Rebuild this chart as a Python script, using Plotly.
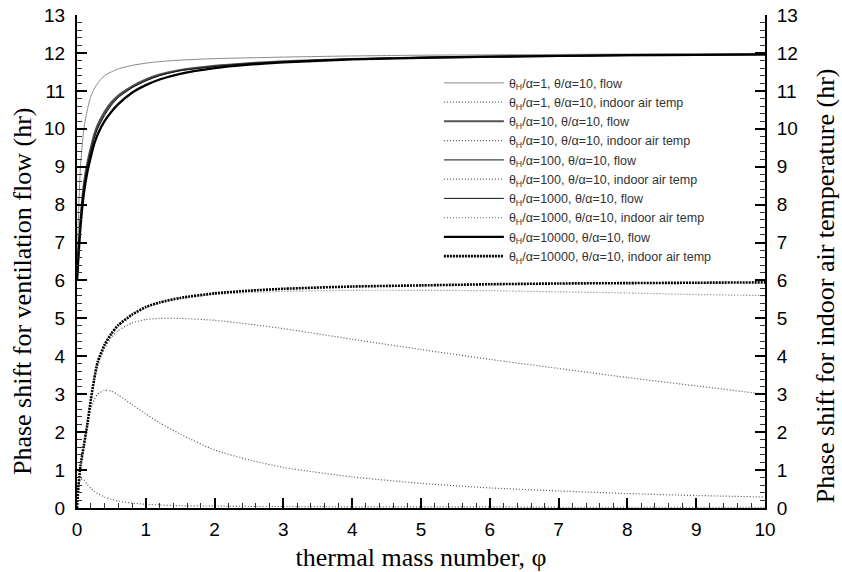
import plotly.graph_objects as go

# thermal mass number, phi
phi = [0, 0.02, 0.05, 0.1, 0.15, 0.2, 0.25, 0.3, 0.4, 0.5, 0.6, 0.8, 1.0, 1.2,
       1.5, 2, 2.5, 3, 4, 5, 6, 7, 8, 9, 10]

# phase shift of ventilation flow (hr)
flow_1 = [6.0, 7.6, 9.0, 10.0, 10.5, 10.85, 11.05, 11.2, 11.4, 11.5, 11.58, 11.67, 11.73, 11.77,
          11.81, 11.85, 11.87, 11.89, 11.92, 11.94, 11.95, 11.96, 11.97, 11.97, 11.98]
flow_10 = [6.0, 6.7, 7.6, 8.55, 9.1, 9.5, 9.85, 10.1, 10.45, 10.7, 10.88, 11.12, 11.3, 11.43,
           11.55, 11.66, 11.73, 11.78, 11.84, 11.88, 11.9, 11.92, 11.94, 11.95, 11.96]
flow_100 = [6.0, 6.68, 7.55, 8.5, 9.05, 9.45, 9.8, 10.05, 10.4, 10.66, 10.85, 11.1, 11.28, 11.41,
            11.54, 11.65, 11.72, 11.77, 11.84, 11.88, 11.9, 11.92, 11.94, 11.95, 11.96]
flow_1000 = [6.0, 6.66, 7.5, 8.45, 9.0, 9.4, 9.75, 10.0, 10.35, 10.62, 10.82, 11.08, 11.26, 11.4,
             11.53, 11.64, 11.72, 11.77, 11.84, 11.88, 11.9, 11.92, 11.94, 11.95, 11.96]
flow_10000 = [6.0, 6.6, 7.4, 8.3, 8.85, 9.25, 9.6, 9.85, 10.2, 10.45, 10.65, 10.95, 11.15, 11.3,
              11.45, 11.6, 11.69, 11.75, 11.83, 11.87, 11.9, 11.92, 11.94, 11.95, 11.96]

# phase shift of indoor air temperature (hr)
temp_1 = [0.0, 0.55, 0.76, 0.74, 0.62, 0.52, 0.44, 0.38, 0.29, 0.23, 0.18, 0.13, 0.1, 0.08,
          0.06, 0.05, 0.04, 0.04, 0.03, 0.03, 0.03, 0.02, 0.02, 0.02, 0.02]
temp_10 = [0.0, 0.55, 1.1, 1.65, 2.2, 2.6, 2.85, 3.0, 3.1, 3.08, 2.98, 2.73, 2.48, 2.25,
           1.95, 1.53, 1.27, 1.07, 0.82, 0.65, 0.53, 0.45, 0.38, 0.33, 0.29]
temp_100 = [0.0, 0.55, 1.1, 1.65, 2.2, 2.85, 3.35, 3.75, 4.2, 4.5, 4.68, 4.88, 4.97, 5.0,
            5.0, 4.95, 4.85, 4.73, 4.45, 4.18, 3.92, 3.68, 3.44, 3.22, 3.0]
temp_1000 = [0.0, 0.55, 1.1, 1.65, 2.2, 2.85, 3.4, 3.85, 4.3, 4.6, 4.82, 5.08, 5.28, 5.4,
             5.52, 5.63, 5.68, 5.71, 5.74, 5.74, 5.73, 5.7, 5.67, 5.63, 5.6]
temp_10000 = [0.0, 0.55, 1.1, 1.65, 2.2, 2.85, 3.4, 3.85, 4.3, 4.6, 4.82, 5.1, 5.3, 5.42,
              5.54, 5.66, 5.73, 5.78, 5.84, 5.87, 5.9, 5.92, 5.93, 5.94, 5.95]

y_ticks = list(range(0, 14))
x_ticks = list(range(0, 11))

FINE_DOT = "1px,2px"
series = [
    ("θ<sub>H</sub>/α=1, θ/α=10, flow", flow_1, "#8a8a8a", 1.0, "solid"),
    ("θ<sub>H</sub>/α=1, θ/α=10, indoor air temp", temp_1, "#555555", 1.2, FINE_DOT),
    ("θ<sub>H</sub>/α=10, θ/α=10, flow", flow_10, "#555555", 2.0, "solid"),
    ("θ<sub>H</sub>/α=10, θ/α=10, indoor air temp", temp_10, "#555555", 1.2, FINE_DOT),
    ("θ<sub>H</sub>/α=100, θ/α=10, flow", flow_100, "#444444", 1.4, "solid"),
    ("θ<sub>H</sub>/α=100, θ/α=10, indoor air temp", temp_100, "#555555", 1.2, FINE_DOT),
    ("θ<sub>H</sub>/α=1000, θ/α=10, flow", flow_1000, "#111111", 1.0, "solid"),
    ("θ<sub>H</sub>/α=1000, θ/α=10, indoor air temp", temp_1000, "#777777", 1.2, FINE_DOT),
    ("θ<sub>H</sub>/α=10000, θ/α=10, flow", flow_10000, "#000000", 2.3, "solid"),
    ("θ<sub>H</sub>/α=10000, θ/α=10, indoor air temp", temp_10000, "#000000", 2.6, "2px,1px"),
]

fig = go.Figure()
for name, vals, color, width, dash in series:
    fig.add_trace(go.Scatter(
        x=phi, y=vals, name=name, mode="lines",
        line=dict(color=color, width=width, dash=dash, shape="spline", smoothing=0.6),
    ))

tick_font = dict(family="Liberation Sans, Arial, sans-serif", size=19, color="black")
title_font = dict(family="Liberation Serif, Times New Roman, serif", size=26, color="black")

minor_ticks = dict(dtick=0.2, ticks="inside", ticklen=5, tickwidth=1, tickcolor="#333333")

fig.update_layout(
    width=842, height=572,
    margin=dict(l=77, r=77, t=15, b=64, autoexpand=False),
    paper_bgcolor="white", plot_bgcolor="white",
    showlegend=True,
    legend=dict(
        x=0.526, y=0.892, xanchor="left", yanchor="top",
        bgcolor="rgba(0,0,0,0)", borderwidth=0,
        font=dict(family="Liberation Sans, Arial, sans-serif", size=12.5, color="#333333"),
        itemwidth=60, tracegroupgap=0,
    ),
    xaxis=dict(
        range=[0, 10], tickvals=x_ticks, ticktext=[str(v) for v in x_ticks],
        showgrid=False, zeroline=False, showline=True, linecolor="black", linewidth=2,
        ticks="inside", ticklen=10, tickwidth=2, tickcolor="black",
        minor=minor_ticks, automargin=False,
        tickfont=tick_font, ticklabelstandoff=3,
        title=dict(text="thermal mass number, φ", font=title_font, standoff=10),
    ),
    yaxis=dict(
        range=[0, 13], tickvals=y_ticks, ticktext=[str(v) for v in y_ticks],
        showgrid=False, zeroline=False, showline=True, linecolor="black", linewidth=2,
        ticks="inside", ticklen=10, tickwidth=2, tickcolor="black",
        minor=minor_ticks, automargin=False,
        tickfont=tick_font, ticklabelstandoff=6,
    ),
    yaxis2=dict(
        range=[0, 13], tickvals=y_ticks, ticktext=[str(v) for v in y_ticks],
        overlaying="y", side="right", anchor="x",
        showgrid=False, zeroline=False, showline=True, linecolor="black", linewidth=2,
        ticks="inside", ticklen=10, tickwidth=2, tickcolor="black",
        minor=minor_ticks, automargin=False,
        tickfont=tick_font, ticklabelstandoff=6,
    ),
    annotations=[
        dict(text="Phase shift for ventilation flow (hr)", textangle=-90,
             xref="paper", yref="paper", x=0, y=0.44, xanchor="center", yanchor="middle",
             xshift=-55, showarrow=False, font=title_font),
        dict(text="Phase shift for indoor air temperature (hr)", textangle=-90,
             xref="paper", yref="paper", x=1, y=0.45, xanchor="center", yanchor="middle",
             xshift=60, showarrow=False, font=title_font),
    ],
)

# keep the right-hand axis drawn by giving it an invisible trace
fig.add_trace(go.Scatter(x=[0, 10], y=[0, 13], yaxis="y2", mode="lines",
                         line=dict(width=0), hoverinfo="skip", showlegend=False))

fig.write_html("out.html")
